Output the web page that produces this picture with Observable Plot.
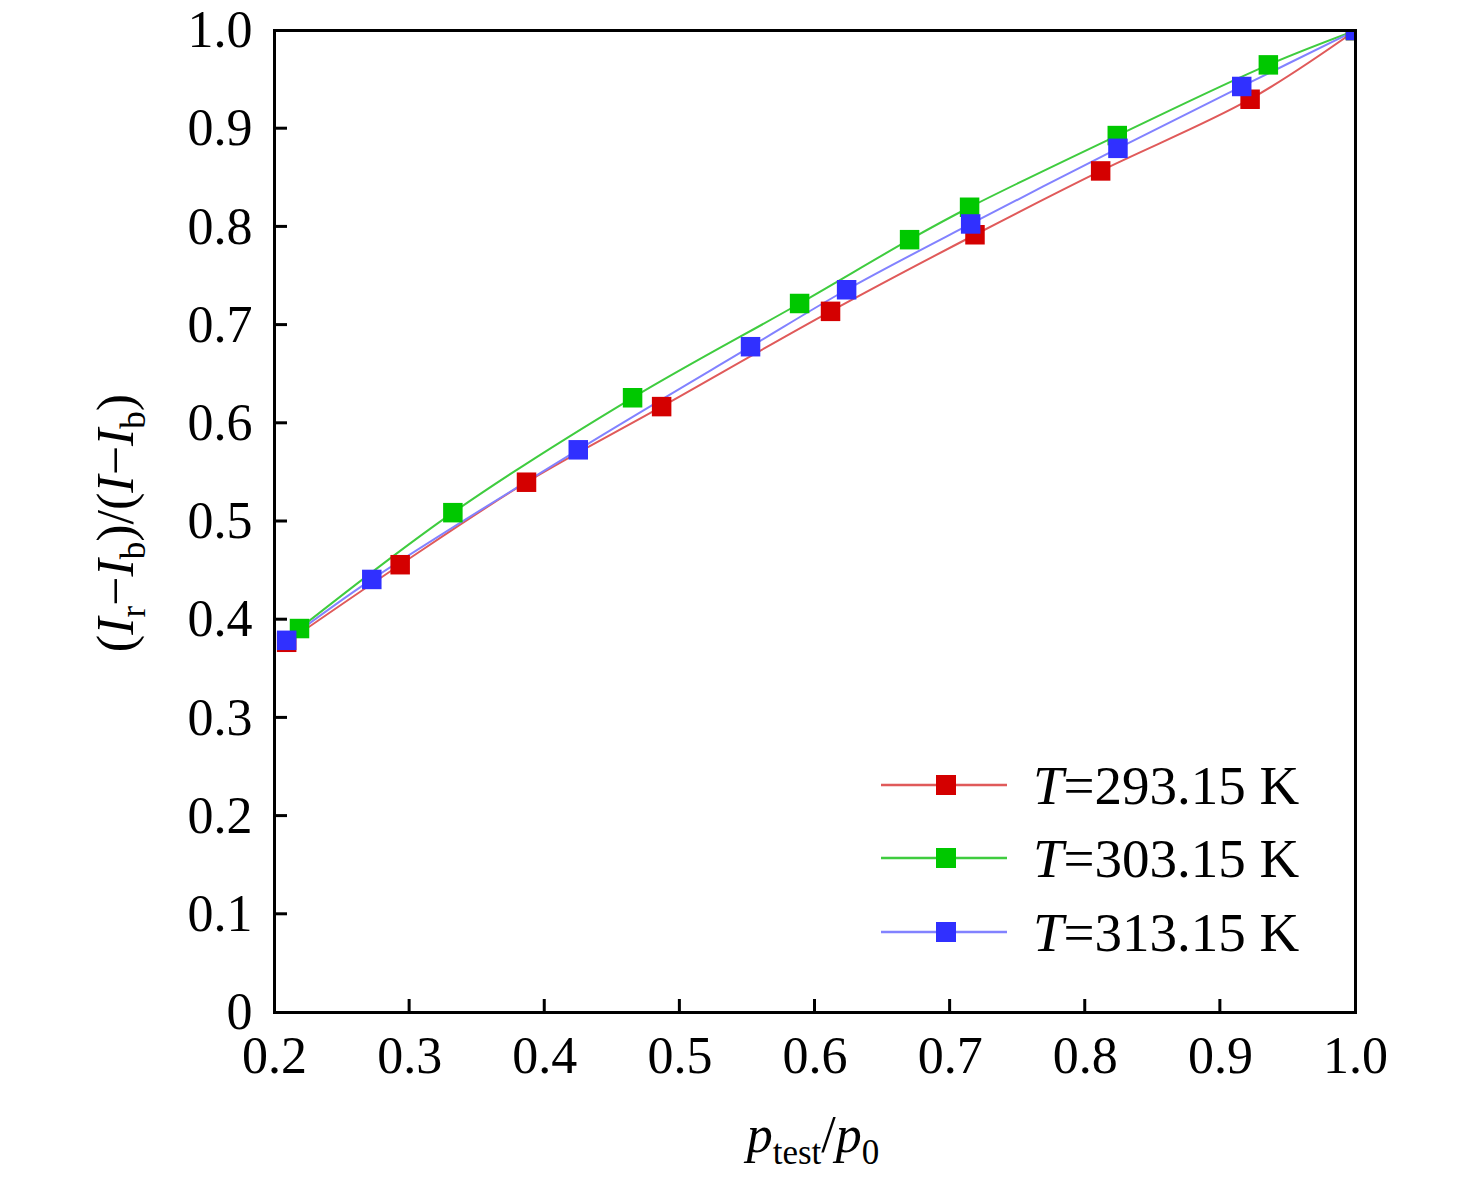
<!DOCTYPE html>
<html><head><meta charset="utf-8">
<script src="https://cdn.jsdelivr.net/npm/d3@7"></script>
<script src="https://cdn.jsdelivr.net/npm/@observablehq/plot@0.6"></script>
<style>
body{margin:0;background:#fff}
#chart{position:relative;width:1476px;height:1183px}
svg text{font-family:"Liberation Serif","Times New Roman",serif}
</style>
</head><body><div id="chart"></div>
<script>
// ---- data ----
const tempLabels = ["293.15 K", "303.15 K", "313.15 K"];
const markerColors = ["#d40000", "#00c800", "#3030ff"];
const lineColors = ["#e05a5a", "#3fcc3f", "#8282ff"];

const xRed   = [0.209, 0.293, 0.3865, 0.4865, 0.6115, 0.7184, 0.8114, 0.922, 1.0];
const yRed   = [0.377, 0.456, 0.540, 0.617, 0.714, 0.792, 0.857, 0.930, 1.0];
const xGreen = [0.2185, 0.332, 0.465, 0.5886, 0.670, 0.7144, 0.8237, 0.9355, 1.0];
const yGreen = [0.391, 0.509, 0.626, 0.722, 0.787, 0.820, 0.893, 0.965, 1.0];
const xBlue  = [0.209, 0.272, 0.4248, 0.5523, 0.6234, 0.7152, 0.8242, 0.9158, 1.0];
const yBlue  = [0.379, 0.441, 0.573, 0.678, 0.736, 0.803, 0.880, 0.943, 1.0];

const xTickValues = [0.2, 0.3, 0.4, 0.5, 0.6, 0.7, 0.8, 0.9, 1.0];
const yTickValues = [0, 0.1, 0.2, 0.3, 0.4, 0.5, 0.6, 0.7, 0.8, 0.9, 1.0];
const xInnerTicks = [0.3, 0.4, 0.5, 0.6, 0.7, 0.8, 0.9];
const yInnerTicks = [0.1, 0.2, 0.3, 0.4, 0.5, 0.6, 0.7, 0.8, 0.9];

const xs = [xRed, xGreen, xBlue];
const ys = [yRed, yGreen, yBlue];
const series = xs.map((xv, i) => xv.map((x, j) => ({x, y: ys[i][j], s: i})));

// ---- chart ----
const W = 1476, H = 1183, mL = 274, mR = 121, mT = 30, mB = 171;
const tickLen = 13;
const fmt = d => d === 0 ? "0" : d.toFixed(1);

const marks = [];
series.forEach((pts, i) => {
  marks.push(Plot.line(pts, {x: "x", y: "y", stroke: lineColors[i], strokeWidth: 2, curve: "catmull-rom", clip: "frame"}));
});
series.forEach((pts, i) => {
  marks.push(Plot.dot(pts, {x: "x", y: "y", symbol: "square", r: 11, fill: markerColors[i], stroke: null, clip: "frame"}));
});
marks.push(
  Plot.axisX(xTickValues, {tickSize: 0, tickPadding: 24, tickFormat: fmt, fontSize: 52, label: null}),
  Plot.axisY(yTickValues, {tickSize: 0, tickPadding: 22, tickFormat: fmt, fontSize: 52, label: null}),
  Plot.frame({stroke: "black", strokeWidth: 3})
);

const chart = Plot.plot({
  width: W, height: H,
  marginLeft: mL, marginRight: mR, marginTop: mT, marginBottom: mB,
  style: {fontFamily: '"Liberation Serif","Times New Roman",serif', color: "black", background: "white"},
  x: {domain: [0.2, 1.0]},
  y: {domain: [0, 1.0]},
  marks
});
document.getElementById("chart").appendChild(chart);

const svg = d3.select(chart);
const sx = chart.scale("x"), sy = chart.scale("y");

// ---- inward ticks ----
const bottomY = H - mB, leftX = mL;
const tg = svg.append("g").attr("stroke", "black").attr("stroke-width", 3);
xInnerTicks.forEach(v => {
  const px = sx.apply(v);
  tg.append("path").attr("d", `M${px},${bottomY}V${bottomY - tickLen}`);
});
yInnerTicks.forEach(v => {
  const py = sy.apply(v);
  tg.append("path").attr("d", `M${leftX},${py}H${leftX + tickLen}`);
});

// ---- axis titles ----
function rich(sel, parts) {
  parts.forEach(p => {
    const t = sel.append("tspan").text(p.t);
    if (p.i) t.attr("font-style", "italic");
    if (p.sub) t.attr("font-size", 35).attr("dy", 12);
    if (p.up) t.attr("dy", -12);
  });
}
const yl = svg.append("text")
  .attr("transform", "translate(133,523) rotate(-90)")
  .attr("text-anchor", "middle").attr("font-size", 52).attr("fill", "black");
rich(yl, [
  {t: "("}, {t: "I", i: 1}, {t: "r", sub: 1}, {t: "−", up: 1}, {t: "I", i: 1}, {t: "b", sub: 1},
  {t: ")/(", up: 1}, {t: "I", i: 1}, {t: "−"}, {t: "I", i: 1}, {t: "b", sub: 1}, {t: ")", up: 1}
]);
const xl = svg.append("text")
  .attr("x", 813).attr("y", 1152)
  .attr("text-anchor", "middle").attr("font-size", 52).attr("fill", "black");
rich(xl, [{t: "p", i: 1}, {t: "test", sub: 1}, {t: "/", up: 1}, {t: "p", i: 1}, {t: "0", sub: 1}]);

// ---- legend ----
const rowsY = [785, 858, 932];
tempLabels.forEach((lab, i) => {
  const g = svg.append("g").attr("transform", `translate(0,${rowsY[i]})`);
  g.append("line").attr("x1", 881).attr("x2", 1007).attr("y1", 0).attr("y2", 0)
    .attr("stroke", lineColors[i]).attr("stroke-width", 2.5);
  g.append("rect").attr("x", 946 - 10).attr("y", -10).attr("width", 20).attr("height", 20)
    .attr("fill", markerColors[i]);
  const t = g.append("text").attr("x", 1033).attr("y", 19).attr("font-size", 55)
    .attr("fill", "black").attr("text-anchor", "start");
  t.append("tspan").attr("font-style", "italic").text("T");
  t.append("tspan").text("=" + lab);
});
</script>
</body></html>
